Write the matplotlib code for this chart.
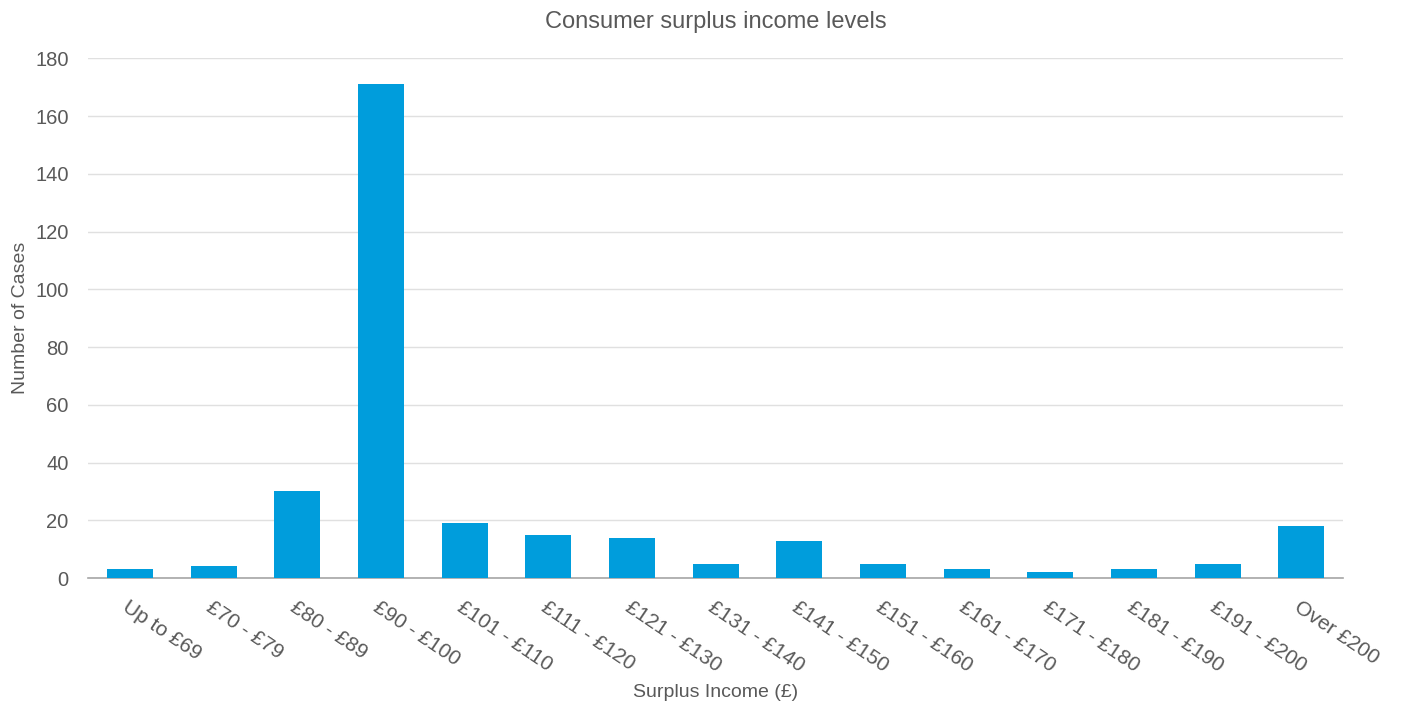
import matplotlib
matplotlib.use("Agg")
import matplotlib.pyplot as plt
import numpy as np

categories = ["Up to £69", "£70 - £79", "£80 - £89", "£90 - £100", "£101 - £110",
              "£111 - £120", "£121 - £130", "£131 - £140", "£141 - £150", "£151 - £160",
              "£161 - £170", "£171 - £180", "£181 - £190", "£191 - £200", "Over £200"]
cases = [3, 4, 30, 171, 19, 15, 14, 5, 13, 5, 3, 2, 3, 5, 18]
y_ticks = [0, 20, 40, 60, 80, 100, 120, 140, 160, 180]

plt.rcParams["font.family"] = ["Liberation Sans", "DejaVu Sans"]
text_color = "#595959"

fig = plt.figure(figsize=(14.08, 7.11), dpi=100)
ax = fig.add_axes([0.0625, 0.187, 0.8915, 0.731])

x = np.arange(len(categories))
ax.bar(x, cases, width=0.55, color="#009DDC", zorder=3)

ax.set_xlim(-0.5, len(categories) - 0.5)
ax.set_ylim(0, 180)
ax.set_yticks(y_ticks)
ax.grid(axis="y", color="#E0E0E0", linewidth=1, zorder=0)

ax.set_xticks(x)
ax.set_xticklabels(categories, rotation=-34, ha="left", va="top",
                   rotation_mode="anchor", fontsize=15, color=text_color)
ax.tick_params(axis="x", length=0, pad=14)
ax.tick_params(axis="y", length=0, labelsize=14.5, labelcolor=text_color, pad=14)

for side in ["top", "right", "left"]:
    ax.spines[side].set_visible(False)
ax.spines["bottom"].set_color("#A6A6A6")
ax.spines["bottom"].set_linewidth(1.2)

ax.set_title("Consumer surplus income levels", fontsize=17, color=text_color, pad=22)
ax.set_ylabel("Number of Cases", fontsize=14, color=text_color, labelpad=4)
ax.set_xlabel("Surplus Income (£)", fontsize=14, color=text_color, labelpad=6)

fig.savefig("out.png", dpi=100)
